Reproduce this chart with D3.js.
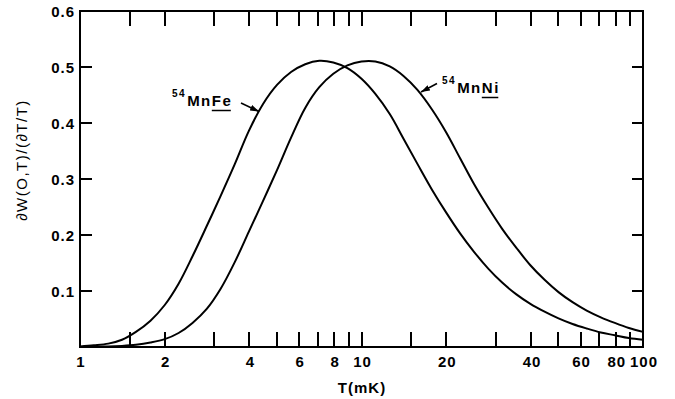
<!DOCTYPE html>
<html>
<head>
<meta charset="utf-8">
<script src="https://cdn.jsdelivr.net/npm/d3@7"></script>
<style>
  html, body { margin: 0; padding: 0; background: #fff; }
  svg { display: block; }
  text { font-family: "Liberation Sans", Arial, Helvetica, sans-serif; fill: #000; }
</style>
</head>
<body>
<svg id="chart" width="675" height="399"></svg>
<script>
// ---- data ----
const tValues = [1, 1.12, 1.26, 1.41, 1.58, 1.78, 2, 2.24, 2.51, 2.82, 3.16, 3.55, 3.98, 4.47, 5.01, 5.62, 6.31, 7.08, 7.94, 8.91,
                 10, 11.2, 12.6, 14.1, 15.8, 17.8, 20, 22.4, 25.1, 28.2, 31.6, 35.5, 39.8, 44.7, 50.1, 56.2, 63.1, 70.8, 79.4, 89.1, 100];
const mnFe = [0.001, 0.003, 0.006, 0.013, 0.027, 0.047, 0.075, 0.113, 0.162, 0.216, 0.270, 0.327, 0.386, 0.434, 0.468, 0.491, 0.505, 0.511, 0.508, 0.498,
              0.479, 0.452, 0.416, 0.372, 0.327, 0.281, 0.240, 0.203, 0.170, 0.140, 0.115, 0.094, 0.077, 0.063, 0.051, 0.041, 0.033, 0.026, 0.021, 0.016, 0.013];
const mnNi = [0.000, 0.001, 0.001, 0.002, 0.004, 0.008, 0.014, 0.025, 0.043, 0.068, 0.104, 0.152, 0.206, 0.261, 0.316, 0.374, 0.427, 0.464, 0.488, 0.503,
              0.510, 0.510, 0.501, 0.484, 0.459, 0.424, 0.383, 0.337, 0.291, 0.249, 0.211, 0.177, 0.146, 0.120, 0.098, 0.080, 0.065, 0.053, 0.043, 0.034, 0.027];
const xTicks = [1.5, 2, 3, 4, 5, 6, 7, 8, 9, 10, 15, 20, 30, 40, 50, 60, 70, 80, 90];
const xTickLabels = [1, 2, 4, 6, 8, 10, 20, 40, 60, 80, 100];
const yTicks = [0.1, 0.2, 0.3, 0.4, 0.5];
const yTickLabels = [0.1, 0.2, 0.3, 0.4, 0.5, 0.6];
const xTitle = "T(mK)";
const yTitle = "\u2202W(O,T)/(\u2202T/T)";

// ---- layout ----
const pLeft = 80, pRight = 643, pTop = 11, pBottom = 347;
const svg = d3.select("#chart");
const x = d3.scaleLog().domain([1, 100]).range([pLeft, pRight]);
const y = d3.scaleLinear().domain([0, 0.6]).range([pBottom, pTop]);

// curves
const line = d3.line().x(d => x(d[0])).y(d => y(d[1])).curve(d3.curveCatmullRom.alpha(0.5));
[mnFe, mnNi].forEach(series => {
  svg.append("path")
    .datum(tValues.map((t, i) => [t, series[i]]))
    .attr("d", line)
    .attr("fill", "none")
    .attr("stroke", "#000")
    .attr("stroke-width", 2);
});

// tick marks: one path built from the scales (inward ticks on all four sides)
const tickPath = d3.path();
xTicks.forEach(t => {
  const px = Math.round(x(t));
  tickPath.moveTo(px, pBottom); tickPath.lineTo(px, pBottom - 15);
  tickPath.moveTo(px, pTop); tickPath.lineTo(px, pTop + 15);
});
yTicks.forEach(v => {
  const py = Math.round(y(v));
  tickPath.moveTo(pLeft, py); tickPath.lineTo(pLeft + 12, py);
  tickPath.moveTo(pRight, py); tickPath.lineTo(pRight - 11, py);
});
svg.append("path")
  .attr("d", tickPath.toString())
  .attr("fill", "none")
  .style("stroke", "#000")
  .style("stroke-width", "2px");

// frame
svg.append("rect")
  .attr("x", pLeft).attr("y", pTop)
  .attr("width", pRight - pLeft).attr("height", pBottom - pTop)
  .attr("fill", "none").attr("stroke", "#000").attr("stroke-width", 2)
  .attr("shape-rendering", "crispEdges");

// tick labels
svg.append("g").selectAll("text").data(xTickLabels).join("text")
  .attr("x", d => x(d) + 1).attr("y", 367)
  .attr("text-anchor", "middle")
  .attr("font-size", 15).attr("font-weight", "bold")
  .style("letter-spacing", "1px")
  .text(d => d);
svg.append("g").selectAll("text").data(yTickLabels).join("text")
  .attr("x", 75).attr("y", d => y(d) + 5.5)
  .attr("text-anchor", "end")
  .attr("font-size", 15).attr("font-weight", "bold")
  .style("letter-spacing", "1px")
  .text(d => d.toFixed(1));

// axis titles
svg.append("text")
  .attr("x", 362).attr("y", 393)
  .attr("text-anchor", "middle")
  .attr("font-size", 15).attr("font-weight", "bold")
  .style("letter-spacing", "1px")
  .text(xTitle);
svg.append("text")
  .attr("transform", "translate(27,160) rotate(-90)")
  .attr("text-anchor", "middle")
  .attr("font-size", 15)
  .style("letter-spacing", "1.5px")
  .text(yTitle);

// annotations
svg.append("defs").append("marker")
  .attr("id", "ah").attr("viewBox", "0 0 12 8")
  .attr("refX", 12).attr("refY", 4)
  .attr("markerWidth", 9).attr("markerHeight", 6)
  .attr("markerUnits", "userSpaceOnUse")
  .attr("orient", "auto")
  .append("path").attr("d", "M0,0 L12,4 L0,8 z").attr("fill", "#000");

function label(xs, ys, iso, base, under, ax1, ay1, ax2, ay2) {
  const g = svg.append("g");
  const t = g.append("text").attr("x", xs).attr("y", ys)
    .attr("font-weight", "bold").style("letter-spacing", "1.5px");
  t.append("tspan").attr("font-size", 10).attr("dy", -9).text(iso);
  t.append("tspan").attr("font-size", 15).attr("dy", 9).attr("dx", 1).text(base);
  const u = t.append("tspan").attr("font-size", 15).text(under);
  const bb = u.node().getBBox();
  g.append("line").attr("x1", bb.x).attr("x2", bb.x + bb.width - 1.5)
    .attr("y1", ys + 4.5).attr("y2", ys + 4.5)
    .attr("stroke", "#000").attr("stroke-width", 1.5);
  g.append("line").attr("x1", ax1).attr("y1", ay1).attr("x2", ax2).attr("y2", ay2)
    .attr("stroke", "#000").attr("stroke-width", 1.6).attr("marker-end", "url(#ah)");
}
label(172, 106, "54", "Mn", "Fe", 241, 103, 259, 111.5);
label(442, 93, "54", "Mn", "Ni", 437, 83.5, 421, 92);
</script>
</body>
</html>
